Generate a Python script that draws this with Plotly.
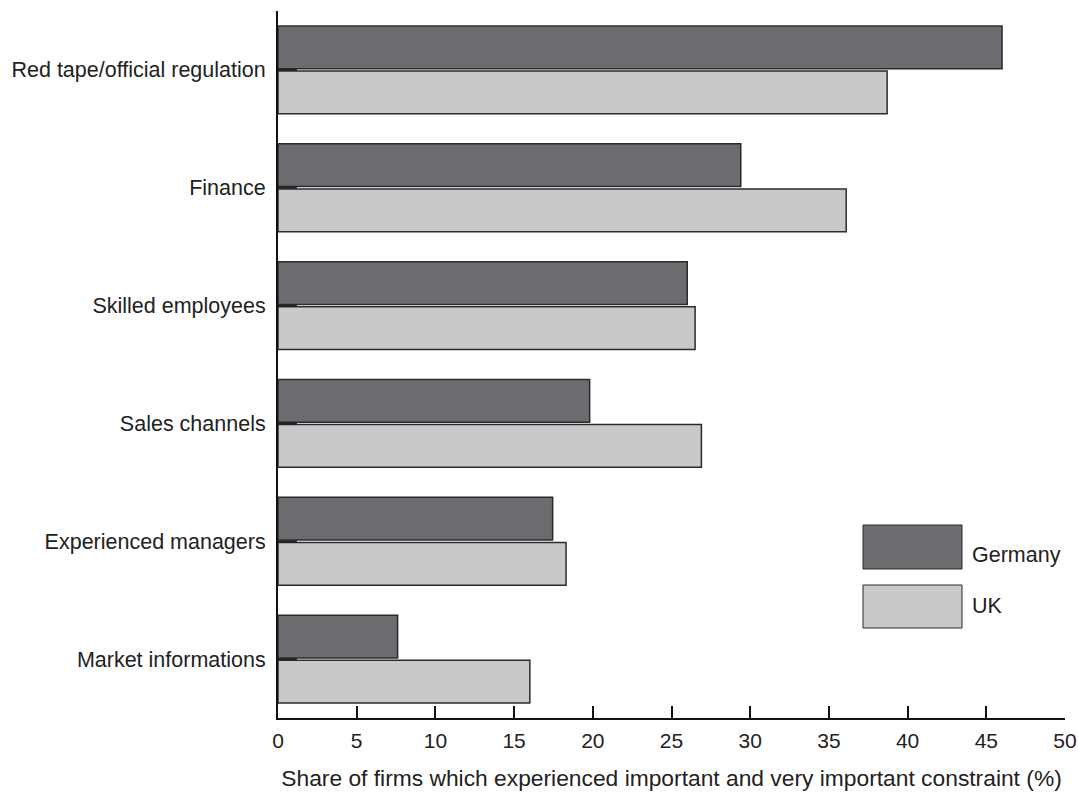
import plotly.graph_objects as go

categories = ["Red tape/official regulation", "Finance", "Skilled employees",
              "Sales channels", "Experienced managers", "Market informations"]
germany = [46.0, 29.4, 26.0, 19.8, 17.45, 7.6]
uk = [38.7, 36.1, 26.5, 26.9, 18.3, 16.0]
stub = [1.2, 1.2, 1.2, 1.2, 1.2, 1.2]
x_ticks = [0, 5, 10, 15, 20, 25, 30, 35, 40, 45, 50]

dark = "#6b6c70"
light = "#c8c9cb"
edge = "#2b2b2b"
font_family = "Liberation Sans, Arial, sans-serif"

fig = go.Figure()
fig.add_trace(go.Bar(y=categories, x=germany, orientation="h", name="Germany",
                     marker=dict(color=dark, line=dict(color=edge, width=1.5))))
fig.add_trace(go.Bar(y=categories, x=uk, orientation="h", name="UK",
                     marker=dict(color=light, line=dict(color=edge, width=1.5))))

# small stub at each category centre
sx, sy = [], []
for c, s in zip(categories, stub):
    sx += [0, s, None]
    sy += [c, c, None]
fig.add_trace(go.Scatter(x=sx, y=sy, mode="lines", line=dict(color="#222", width=2),
                         hoverinfo="skip", showlegend=False))

# manual legend (paper coords relative to plot area 278..1065 x 11..718)
def px(x):
    return (x - 278) / 787

def py(y):
    return (718 - y) / 707

fig.add_shape(type="rect", xref="paper", yref="paper",
              x0=px(863), x1=px(962), y0=py(569), y1=py(525),
              fillcolor=dark, line=dict(color=edge, width=1))
fig.add_shape(type="rect", xref="paper", yref="paper",
              x0=px(863), x1=px(962), y0=py(628), y1=py(585),
              fillcolor=light, line=dict(color=edge, width=1))
fig.add_annotation(text="Germany", xref="paper", yref="paper",
                   x=px(970), y=py(555), xanchor="left", yanchor="middle",
                   showarrow=False, font=dict(size=21.5, color="#222", family=font_family))
fig.add_annotation(text="UK", xref="paper", yref="paper",
                   x=px(970), y=py(606), xanchor="left", yanchor="middle",
                   showarrow=False, font=dict(size=21.5, color="#222", family=font_family))

fig.update_layout(
    width=1078, height=794,
    margin=dict(l=278, r=13, t=11, b=76),
    paper_bgcolor="white", plot_bgcolor="white",
    barmode="group", bargap=0.236, bargroupgap=0.05,
    showlegend=False,
    font=dict(family=font_family, size=21.5, color="#222"),
)
fig.update_xaxes(range=[0, 50], tickvals=x_ticks, ticktext=[str(v) for v in x_ticks],
                 ticks="inside", ticklen=12, tickwidth=2, tickcolor="#111",
                 showline=True, linecolor="#111", linewidth=2, showgrid=False,
                 zeroline=False, tickfont=dict(size=21), ticklabelstandoff=3,
                 automargin=False,
                 title=dict(text="Share of firms which experienced important and very important constraint (%)",
                            font=dict(size=22.8), standoff=19))
fig.update_yaxes(range=[5.5, -0.5], showline=True, linecolor="#111", linewidth=2,
                 ticks="", showgrid=False, zeroline=False, tickfont=dict(size=21.5),
                 ticklabelstandoff=6, automargin=False)

# remove the default 8px body margin so the figure fills the window exactly
fig.write_html("out.html", config={"displayModeBar": False},
               post_script="document.body.style.margin='0';document.body.style.overflow='hidden';")
